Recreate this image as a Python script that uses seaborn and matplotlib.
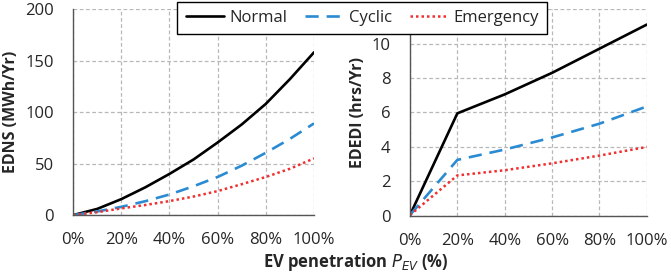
import numpy as np
import pandas as pd
import matplotlib
matplotlib.use("Agg")
import matplotlib.pyplot as plt
import seaborn as sns

# EV penetration levels (%)
pen_fine = [0, 10, 20, 30, 40, 50, 60, 70, 80, 90, 100]
pen = [0, 20, 40, 60, 80, 100]

# EDNS (MWh/Yr)
edns_normal = [0, 6, 15.5, 27, 40, 54, 70.5, 88, 108, 132, 158]
edns_cyclic = [0, 3.5, 8, 13.5, 20, 28, 37, 48, 60.5, 74, 89]
edns_emerg = [0, 2.8, 6.5, 9.8, 13.6, 18, 23.3, 30, 37, 45, 55]

# EDEDI (hrs/Yr)
ededi_normal = [0.05, 5.95, 7.05, 8.3, 9.7, 11.1]
ededi_cyclic = [0.05, 3.25, 3.85, 4.55, 5.35, 6.35]
ededi_emerg = [0.05, 2.35, 2.65, 3.05, 3.5, 4.0]

series = ["Normal", "Cyclic", "Emergency"]
colors = {"Normal": "black", "Cyclic": "#2a8bd2", "Emergency": "#f03030"}
dashes = {"Normal": "", "Cyclic": (5, 3), "Emergency": (1, 1.2)}
widths = {"Normal": 1.9, "Cyclic": 1.9, "Emergency": 1.8}


def to_long(x, vals):
    rows = []
    for name, v in zip(series, vals):
        for xi, yi in zip(x, v):
            rows.append({"pen": xi, "val": yi, "series": name})
    return pd.DataFrame(rows)


df_l = to_long(pen_fine, [edns_normal, edns_cyclic, edns_emerg])
df_r = to_long(pen, [ededi_normal, ededi_cyclic, ededi_emerg])

sns.set_style("white")
plt.rcParams["font.family"] = ["Open Sans", "DejaVu Sans"]

fig = plt.figure(figsize=(6.71, 2.74), dpi=100)
ax1 = fig.add_axes([0.109, 0.215, 0.359, 0.752])
ax2 = fig.add_axes([0.611, 0.212, 0.353, 0.755])

for ax, df in [(ax1, df_l), (ax2, df_r)]:
    for name in series:
        sub = df[df["series"] == name]
        sns.lineplot(data=sub, x="pen", y="val", ax=ax, color=colors[name],
                     lw=widths[name], label=name, legend=False)
        ln = ax.lines[-1]
        if dashes[name]:
            ln.set_dashes(dashes[name])
    ax.set_xlim(0, 100)
    ax.set_xticks(range(0, 101, 20))
    ax.set_xticklabels([f"{t}%" for t in range(0, 101, 20)])
    ax.grid(True, color="#b8b8b8", linestyle=(0, (3, 2)), lw=0.9)
    ax.set_axisbelow(True)
    for s in ["top", "right"]:
        ax.spines[s].set_visible(False)
    for s in ["left", "bottom"]:
        ax.spines[s].set_color("#555555")
        ax.spines[s].set_linewidth(1.0)
    ax.tick_params(axis="y", length=3, width=0.8, color="#555555",
                   direction="out", labelsize=12, pad=11)
    ax.tick_params(axis="x", length=3, width=0.8, color="#555555",
                   direction="out", labelsize=12, pad=9)
    ax.set_xlabel("")

ax1.set_ylim(0, 200)
ax1.set_yticks(range(0, 201, 50))
ax1.set_ylabel("EDNS (MWh/Yr)", fontsize=11.5, fontweight="bold", labelpad=4)

ax2.set_ylim(0, 12)
ax2.set_yticks(range(0, 13, 2))
ax2.set_yticklabels([str(t) for t in range(0, 11, 2)] + [""])
ax2.set_ylabel("EDEDI (hrs/Yr)", fontsize=11.5, fontweight="bold", labelpad=4)

fig.text(0.53, 0.025, r"EV penetration $\boldsymbol{P_{EV}}$ (%)", ha="center",
         fontsize=12, fontweight="bold")

handles = ax1.lines[:3]
leg = fig.legend(handles, series, ncol=3, loc="upper center",
                 bbox_to_anchor=(0.540, 1.0), fontsize=12, frameon=True,
                 fancybox=False, framealpha=1, edgecolor="black",
                 handlelength=2.3, handletextpad=0.3, columnspacing=1.1,
                 borderpad=0.5, borderaxespad=0.1)
leg.get_frame().set_linewidth(1.0)

fig.savefig("out.png", dpi=100)
